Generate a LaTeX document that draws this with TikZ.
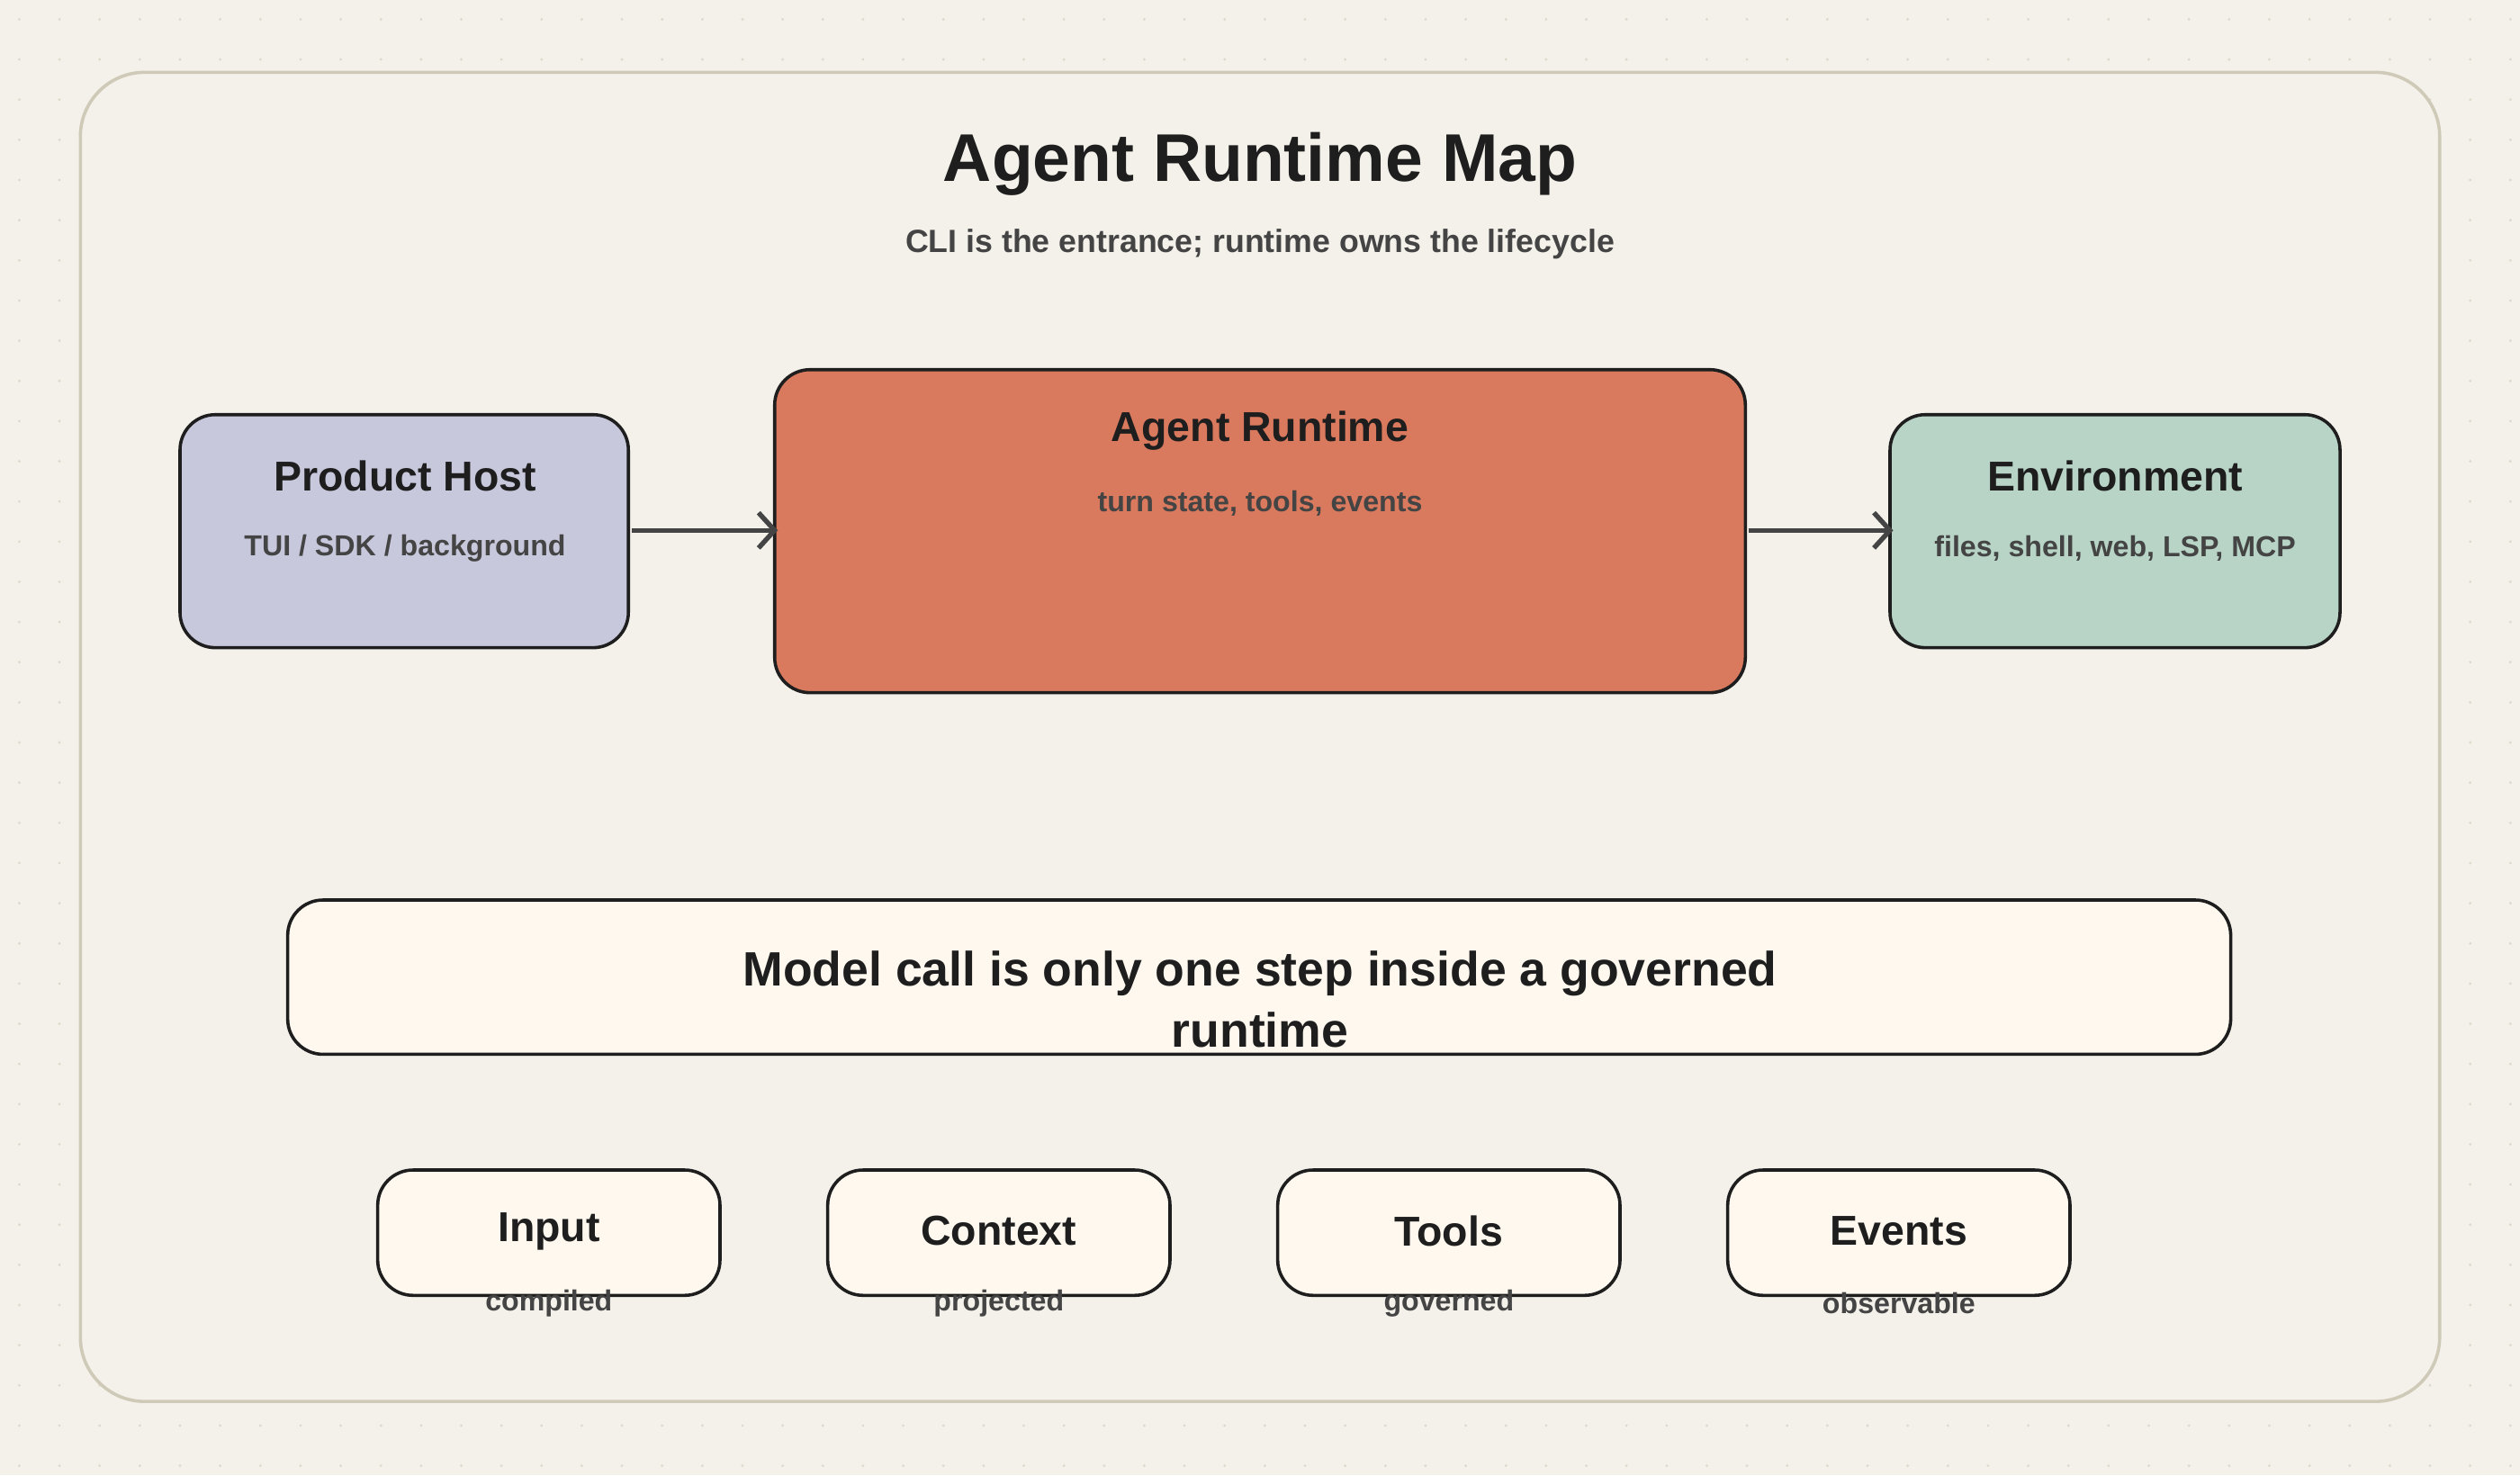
\documentclass[tikz,border=0pt]{standalone}
\usepackage{fontspec}
\setmainfont{Liberation Sans}
\usetikzlibrary{arrows.meta}
\definecolor{bg}{HTML}{F4F1EA}
\definecolor{frame}{HTML}{CFCAB8}
\definecolor{hostc}{HTML}{C7C8DC}
\definecolor{runc}{HTML}{D97A5E}
\definecolor{envc}{HTML}{B7D4C6}
\definecolor{cream}{HTML}{FEF8EE}
\definecolor{ink}{HTML}{1E1E1E}
\definecolor{sub}{HTML}{444444}
\begin{document}
\begin{tikzpicture}[x=1pt,y=-1pt,
  box/.style={draw=ink,line width=2pt,rounded corners=22pt},
  ttl/.style={font=\bfseries\fontsize{26}{30}\selectfont,text=ink},
  sml/.style={font=\bfseries\fontsize{18}{22}\selectfont,text=sub},
  arr/.style={draw=sub,line width=3pt,-{Straight Barb[length=10pt,width=22pt,line width=3pt]}}]
\fill[bg] (0,0) rectangle (1568,918);
\useasboundingbox (0,0) rectangle (1568,918);
\foreach \i in {0,...,62}{\foreach \j in {0,...,36}{\fill[frame!70] (12+25*\i,12+25*\j) circle (0.9pt);}}
\draw[frame,fill=bg,line width=2pt,rounded corners=40pt] (50,45) rectangle (1518,872);
\node[font=\bfseries\fontsize{42}{48}\selectfont,text=ink] (title) at (784,102) {Agent Runtime Map};
\node[font=\bfseries\fontsize{20}{24}\selectfont,text=sub] (subt) at (784,152) {CLI is the entrance; runtime owns the lifecycle};
\draw[box,fill=hostc] (112,258) rectangle (391,403);
\draw[box,fill=runc] (482,230) rectangle (1086,431);
\draw[box,fill=envc] (1176,258) rectangle (1456,403);
\node (host) at (251.5,330.5) {};
\node (run) at (784,330.5) {};
\node (env) at (1316,330.5) {};
\node[ttl] (h1) at (252,296) {Product Host};
\node[sml] (h2) at (252,341) {TUI / SDK / background};
\node[ttl] (r1) at (784,268) {Agent Runtime};
\node[sml] (r2) at (784,313) {turn state, tools, events};
\node[ttl] (e1) at (1316,296) {Environment};
\node[sml] (e2) at (1316,341) {files, shell, web, LSP, MCP};
\coordinate (a1) at (393,330); \coordinate (b1) at (484,330);
\coordinate (a2) at (1088,330); \coordinate (b2) at (1178,330);
\draw[arr] (a1) -- (b1);
\draw[arr] (a2) -- (b2);
\draw[box,fill=cream] (179,560) rectangle (1388,656);
\node[font=\bfseries\fontsize{30}{38}\selectfont,text=ink,align=center] (banner) at (784,622) {Model call is only one step inside a governed\\runtime};
\foreach \x/\t/\s in {235/Input/compiled,515/Context/projected,795/Tools/governed,1075/Events/observable}{
  \draw[box,fill=cream] (\x,728) rectangle (\x+213,806);
  \node[ttl] (t\t) at (\x+106.5,766) {\t};
  \node[sml] (s\t) at (\x+106.5,811) {\s};
}
\end{tikzpicture}
\end{document}
